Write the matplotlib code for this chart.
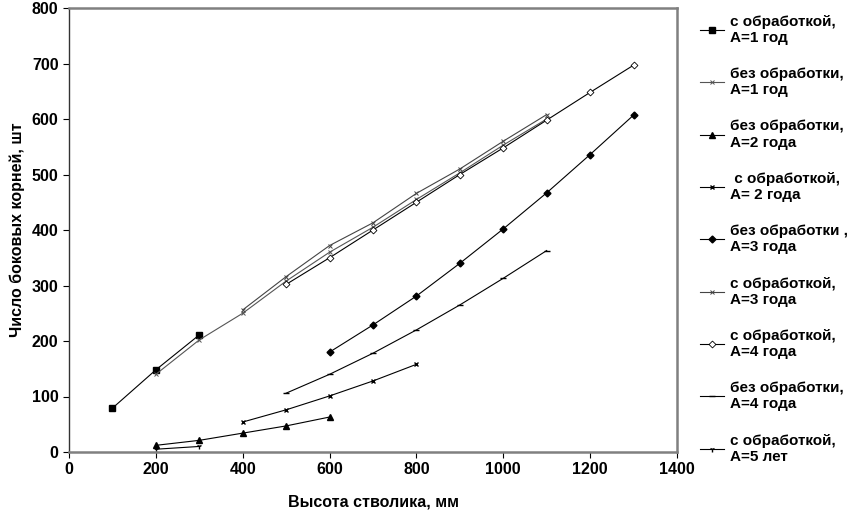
import matplotlib.pyplot as plt
import numpy as np

plt.rcParams['font.family'] = ['Liberation Sans', 'DejaVu Sans']
plt.rcParams['font.weight'] = 'bold'

# данные: высота стволика (мм) и число боковых корней (шт)
x_s1 = [100, 200, 300]
y_s1 = [79, 148, 211]
x_b1 = [200, 300, 400, 500, 600, 700, 800, 900, 1000, 1100]
y_b1 = [140, 202, 250, 308, 360, 405, 455, 503, 553, 600]
x_b2 = [200, 300, 400, 500, 600]
y_b2 = [12, 21, 34, 47, 63]
x_s2 = [400, 500, 600, 700, 800]
y_s2 = [54, 76, 101, 128, 158]
x_b3 = [600, 700, 800, 900, 1000, 1100, 1200, 1300]
y_b3 = [180, 229, 281, 340, 402, 467, 536, 607]
x_s3 = [400, 500, 600, 700, 800, 900, 1000, 1100]
y_s3 = [256, 316, 372, 413, 466, 510, 560, 608]
x_s4 = [500, 600, 700, 800, 900, 1000, 1100, 1200, 1300]
y_s4 = [302, 350, 400, 450, 500, 548, 598, 648, 697]
x_b4 = [500, 600, 700, 800, 900, 1000, 1100]
y_b4 = [106, 140, 178, 220, 265, 313, 363]
x_s5 = [200, 300]
y_s5 = [5, 10]

labels = ['с обработкой,\nA=1 год', 'без обработки,\nA=1 год',
          'без обработки,\nA=2 года', ' с обработкой,\nA= 2 года',
          'без обработки ,\nA=3 года', 'с обработкой,\nA=3 года',
          'с обработкой,\nA=4 года', 'без обработки,\nA=4 года',
          'с обработкой,\nA=5 лет']

fig = plt.figure(figsize=(8.57, 5.18), dpi=100)
ax = fig.add_axes([69 / 857, 1 - 452 / 518, (677 - 69) / 857, (452 - 8) / 518])

lw = 0.8
ax.plot(x_s1, y_s1, color='black', lw=lw, marker='s', ms=4.5, label=labels[0])
ax.plot(x_b1, y_b1, color='#555555', lw=lw, marker='x', ms=3.5, mew=0.7, label=labels[1])
ax.plot(x_b2, y_b2, color='black', lw=lw, marker='^', ms=5, label=labels[2])
ax.plot(x_s2, y_s2, color='black', lw=lw, marker='x', ms=3.5, mew=1.0, label=labels[3])
ax.plot(x_b3, y_b3, color='black', lw=lw, marker='D', ms=3.5, label=labels[4])
ax.plot(x_s3, y_s3, color='#444444', lw=lw, marker='x', ms=3.5, mew=0.7, label=labels[5])
ax.plot(x_s4, y_s4, color='black', lw=lw, marker='D', ms=3.5, mfc='white', mew=0.6, label=labels[6])
ax.plot(x_b4, y_b4, color='black', lw=lw, marker='_', ms=4, label=labels[7])
ax.plot(x_s5, y_s5, color='black', lw=lw, marker='1', ms=4, label=labels[8])

ax.set_xlim(0, 1400)
ax.set_ylim(0, 800)
ax.set_xticks(np.arange(0, 1401, 200))
ax.set_yticks(np.arange(0, 801, 100))
ax.tick_params(labelsize=11.5, direction='out', length=4, width=0.8)
for sp in ax.spines.values():
    sp.set_color('#808080')
    sp.set_linewidth(1.8)
ax.spines['left'].set_color('#333333')
ax.spines['left'].set_linestyle((0, (2, 1)))
ax.spines['left'].set_linewidth(1.0)

ax.set_xlabel('Высота стволика, мм', fontsize=11.5, fontweight='bold', labelpad=12)
ax.set_ylabel('Число боковых корней, шт', fontsize=11.5, fontweight='bold', labelpad=5)

handles, labs = ax.get_legend_handles_labels()
fig.legend(handles, labs, loc='upper left', bbox_to_anchor=(686 / 857, 1 - 1 / 518),
           frameon=False, fontsize=11, handlelength=1.6, handletextpad=0.4,
           labelspacing=1.45)

fig.savefig('out.png', dpi=100)
